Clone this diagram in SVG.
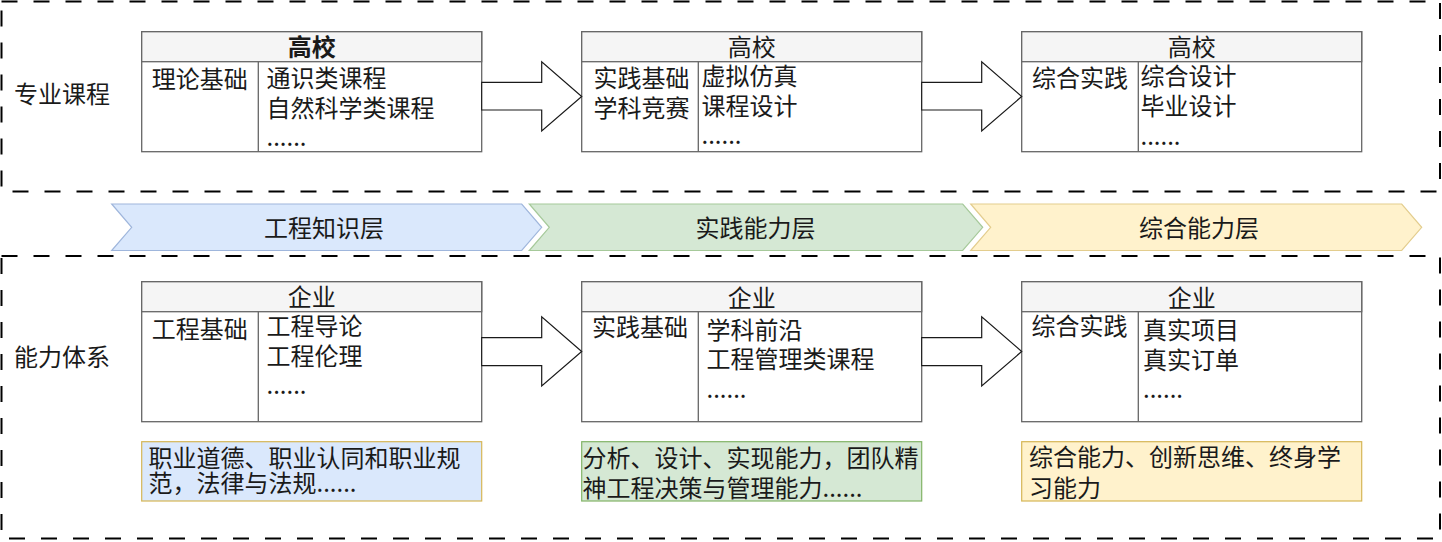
<svg xmlns="http://www.w3.org/2000/svg" width="1442" height="542" viewBox="0 0 1442 542">
<style>
text{font-family:"Noto Sans CJK SC","Liberation Sans",sans-serif;font-size:24px;fill:#1a1a1a;dominant-baseline:central}
.c{text-anchor:middle}
.frame{fill:none;stroke:#000;stroke-width:2;stroke-dasharray:16 16}
.box{fill:#fff;stroke:#666;stroke-width:1.3}
.hdr{fill:#f5f5f5;stroke:#666;stroke-width:1.3}
.div{stroke:#666;stroke-width:1.3}
.arr{fill:#fff;stroke:#1a1a1a;stroke-width:1.2}
</style>
<g id="frames">
<rect class="frame" x="1.5" y="1.5" width="1438.5" height="190"/>
<rect class="frame" x="1.5" y="256" width="1438.5" height="282.5"/>
</g>
<g id="label-top"><text x="14" y="92">专业课程</text></g>
<g id="label-bottom"><text x="14" y="355">能力体系</text></g>

<g id="band-1">
<polygon points="111.7,204 521.7,204 541.7,227.3 521.7,250.5 111.7,250.5 131.7,227.3" fill="#dae8fc" stroke="#9fb6dc" stroke-width="1.2"/>
<text class="c" x="324" y="226">工程知识层</text>
</g>
<g id="band-2">
<polygon points="529.3,204 962.7,204 982.7,227.3 962.7,250.5 529.3,250.5 549.3,227.3" fill="#d5e8d4" stroke="#a6c99a" stroke-width="1.2"/>
<text class="c" x="755.5" y="226">实践能力层</text>
</g>
<g id="band-3">
<polygon points="970.7,204 1401.7,204 1421.7,227.3 1401.7,250.5 970.7,250.5 990.7,227.3" fill="#fff2cc" stroke="#e3cd8e" stroke-width="1.2"/>
<text class="c" x="1199" y="226">综合能力层</text>
</g>

<g id="node-top-1">
<rect class="box" x="141.7" y="31.7" width="340" height="120"/>
<rect class="hdr" x="141.7" y="31.7" width="340" height="30"/>
<line class="div" x1="258.3" y1="61.7" x2="258.3" y2="151.7"/>
<text class="c" x="311.7" y="45.5" font-weight="bold">高校</text>
<text class="c" x="199.8" y="77">理论基础</text>
<text x="266.5" y="76.5">通识类课程</text>
<text x="266.5" y="106.5">自然科学类课程</text>
<text x="266.5" y="135.5">......</text>
</g>
<g id="node-top-2">
<rect class="box" x="581.7" y="31.7" width="340" height="120"/>
<rect class="hdr" x="581.7" y="31.7" width="340" height="30"/>
<line class="div" x1="698.3" y1="61.7" x2="698.3" y2="151.7"/>
<text class="c" x="751.7" y="45.5">高校</text>
<text class="c" x="641.5" y="76">实践基础</text>
<text class="c" x="641.5" y="106">学科竞赛</text>
<text x="701.5" y="74.5">虚拟仿真</text>
<text x="701.5" y="104.5">课程设计</text>
<text x="701.5" y="133.5">......</text>
</g>
<g id="node-top-3">
<rect class="box" x="1021.7" y="31.7" width="340" height="120"/>
<rect class="hdr" x="1021.7" y="31.7" width="340" height="30"/>
<line class="div" x1="1138.3" y1="61.7" x2="1138.3" y2="151.7"/>
<text class="c" x="1191.7" y="45.5">高校</text>
<text class="c" x="1080" y="76.5">综合实践</text>
<text x="1140.5" y="74.5">综合设计</text>
<text x="1140.5" y="104.5">毕业设计</text>
<text x="1140.5" y="134">......</text>
</g>

<g id="node-bottom-1">
<rect class="box" x="141.7" y="281.7" width="340" height="140"/>
<rect class="hdr" x="141.7" y="281.7" width="340" height="30"/>
<line class="div" x1="258.3" y1="311.7" x2="258.3" y2="421.7"/>
<text class="c" x="311.7" y="295.5">企业</text>
<text class="c" x="199.8" y="327">工程基础</text>
<text x="266.5" y="324.7">工程导论</text>
<text x="266.5" y="354.7">工程伦理</text>
<text x="266.5" y="383">......</text>
</g>
<g id="node-bottom-2">
<rect class="box" x="581.7" y="281.7" width="340" height="140"/>
<rect class="hdr" x="581.7" y="281.7" width="340" height="30"/>
<line class="div" x1="698.3" y1="311.7" x2="698.3" y2="421.7"/>
<text class="c" x="751.7" y="296.5">企业</text>
<text class="c" x="640" y="325.5" font-size="20">实践基础</text>
<text x="706.5" y="328">学科前沿</text>
<text x="706.5" y="357.5">工程管理类课程</text>
<text x="706.5" y="387">......</text>
</g>
<g id="node-bottom-3">
<rect class="box" x="1021.7" y="281.7" width="340" height="140"/>
<rect class="hdr" x="1021.7" y="281.7" width="340" height="30"/>
<line class="div" x1="1138.3" y1="311.7" x2="1138.3" y2="421.7"/>
<text class="c" x="1191.7" y="296.5">企业</text>
<text class="c" x="1079.5" y="324.7">综合实践</text>
<text x="1143" y="328">真实项目</text>
<text x="1143" y="358">真实订单</text>
<text x="1143" y="387">......</text>
</g>

<g id="ability-1">
<rect x="141.7" y="441.7" width="340" height="59.3" fill="#dae8fc" stroke="#d6b656" stroke-width="1.2"/>
<text x="148.5" y="456">职业道德、职业认同和职业规</text>
<text x="148.5" y="481.5">范，法律与法规......</text>
</g>
<g id="ability-2">
<rect x="581.7" y="441.7" width="340" height="59.3" fill="#d5e8d4" stroke="#82b366" stroke-width="1.2"/>
<text x="582.5" y="456">分析、设计、实现能力，团队精</text>
<text x="582.5" y="486">神工程决策与管理能力......</text>
</g>
<g id="ability-3">
<rect x="1021.7" y="441.7" width="340" height="59.3" fill="#fff2cc" stroke="#d6b656" stroke-width="1.2"/>
<text x="1029" y="455.5">综合能力、创新思维、终身学</text>
<text x="1029" y="486">习能力</text>
</g>

<g id="connectors">
<polygon class="arr" points="481.7,82.3 541.7,82.3 541.7,61.7 581.7,96.5 541.7,131 541.7,110 481.7,110"/>
<polygon class="arr" points="921.7,82.3 981.7,82.3 981.7,61.7 1021.7,96.5 981.7,131 981.7,110 921.7,110"/>
<polygon class="arr" points="481.7,337.7 541.7,337.7 541.7,316.7 581.7,351.5 541.7,386 541.7,365.7 481.7,365.7"/>
<polygon class="arr" points="921.7,337.7 981.7,337.7 981.7,316.7 1021.7,351.5 981.7,386 981.7,365.7 921.7,365.7"/>
</g>
</svg>
